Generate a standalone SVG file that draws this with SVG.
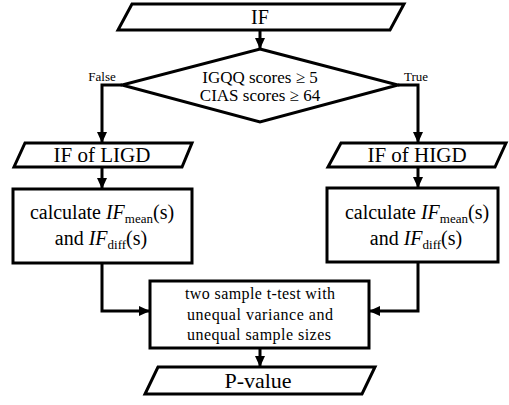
<svg xmlns="http://www.w3.org/2000/svg" width="509" height="405" viewBox="0 0 509 405">
  <defs>
    <marker id="arrow" markerUnits="userSpaceOnUse" markerWidth="12" markerHeight="12" viewBox="0 0 12 12" refX="11" refY="6" orient="auto">
      <path d="M0,1 L11,6 L0,11 Z" fill="#000"/>
    </marker>
  </defs>
  <style>
    .shape { fill: #fff; stroke: #000; stroke-width: 3; stroke-linejoin: miter; }
    .conn { fill: none; stroke: #000; stroke-width: 3; }
    text { fill: #000; text-anchor: middle; }
    .t20 { font-size: 20px; }
    .t21 { font-size: 21px; }
    .t17 { font-size: 17px; }
    .t16 { font-size: 16px; }
    .t13 { font-size: 13px; }
    .t22 { font-size: 22px; }
    .it { font-style: italic; }
    .sub { font-size: 13px; }
  </style>

  <rect width="509" height="405" fill="#fff"/>

  <g font-family="'Liberation Serif', 'DejaVu Serif', serif">
  <!-- connectors -->
  <g id="connectors">
    <path class="conn" d="M260 30 V49" marker-end="url(#arrow)"/>
    <path class="conn" d="M122 85 H102 V143" marker-end="url(#arrow)"/>
    <path class="conn" d="M398 85 H418 V143" marker-end="url(#arrow)"/>
    <path class="conn" d="M102 167 V189" marker-end="url(#arrow)"/>
    <path class="conn" d="M418 167 V188" marker-end="url(#arrow)"/>
    <path class="conn" d="M102 263 V311 H150" marker-end="url(#arrow)"/>
    <path class="conn" d="M418 262 V311 H369" marker-end="url(#arrow)"/>
    <path class="conn" d="M260 348 V367" marker-end="url(#arrow)"/>
    <text class="t13" x="102" y="81">False</text>
    <text class="t13" x="416" y="81">True</text>
  </g>

  <!-- input data -->
  <g id="node-if">
    <polygon class="shape" points="132,4 404,4 390,30 118,30"/>
    <text class="t20" x="260" y="24">IF</text>
  </g>

  <!-- decision -->
  <g id="node-decision">
    <polygon class="shape" points="260,49 398,85 260,122 122,85"/>
    <text class="t17" x="260" y="83">IGQQ scores ≥ 5</text>
    <text class="t17" x="260" y="101">CIAS scores ≥ 64</text>
  </g>

  <!-- low group branch -->
  <g id="node-ligd">
    <polygon class="shape" points="25,143 192,143 182,167 14,167"/>
    <text class="t21" x="102" y="162">IF of LIGD</text>
  </g>
  <g id="node-calc-left">
    <rect class="shape" x="13" y="189" width="179" height="74"/>
    <text class="t20" x="102" y="219">calculate <tspan class="it">IF</tspan><tspan class="sub" dy="4">mean</tspan><tspan dy="-4">(s)</tspan></text>
    <text class="t20" x="101" y="245">and <tspan class="it">IF</tspan><tspan class="sub" dy="4">diff</tspan><tspan dy="-4">(s)</tspan></text>
  </g>

  <!-- high group branch -->
  <g id="node-higd">
    <polygon class="shape" points="341,143 506,143 495,167 328,167"/>
    <text class="t21" x="417" y="162">IF of HIGD</text>
  </g>
  <g id="node-calc-right">
    <rect class="shape" x="327" y="188" width="171" height="74"/>
    <text class="t20" x="417" y="219">calculate <tspan class="it">IF</tspan><tspan class="sub" dy="4">mean</tspan><tspan dy="-4">(s)</tspan></text>
    <text class="t20" x="416" y="245">and <tspan class="it">IF</tspan><tspan class="sub" dy="4">diff</tspan><tspan dy="-4">(s)</tspan></text>
  </g>

  <!-- statistical test -->
  <g id="node-ttest">
    <rect class="shape" x="150" y="281" width="219" height="67"/>
    <text class="t16" x="260" y="299" textLength="150" lengthAdjust="spacing">two sample t-test with</text>
    <text class="t16" x="260" y="320" textLength="146" lengthAdjust="spacing">unequal variance and</text>
    <text class="t16" x="259" y="340" textLength="144" lengthAdjust="spacing">unequal sample sizes</text>
  </g>

  <!-- result -->
  <g id="node-pvalue">
    <polygon class="shape" points="158,367 375,367 362,394 145,394"/>
    <text class="t22" x="258" y="388">P-value</text>
  </g>
  </g>
</svg>
